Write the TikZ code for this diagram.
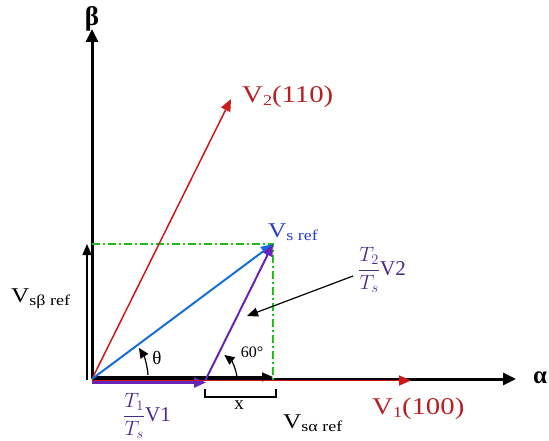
\documentclass[tikz,border=0pt]{standalone}
\usepackage{fontspec}
\setmainfont{Liberation Serif}
\newfontfamily\labfont[FakeStretch=1.2]{Liberation Serif}
\usetikzlibrary{arrows.meta}
\definecolor{vred}{RGB}{205,25,25}
\definecolor{lred}{RGB}{185,30,35}
\definecolor{vblue}{RGB}{20,110,220}
\definecolor{lblue}{RGB}{40,60,200}
\definecolor{vpurple}{RGB}{105,35,185}
\definecolor{lpurple}{RGB}{75,40,140}
\definecolor{vgreen}{RGB}{30,190,30}
\newcommand\lsub[1]{\raisebox{-3pt}{\fontsize{15}{15}\selectfont #1}}
\tikzset{
  axisline/.style={line width=3pt,-{Triangle[length=13pt,width=12pt]}},
  vec/.style={-{Triangle[length=12pt,width=10pt]}},
  comp/.style={line width=1.2pt,-{Triangle[length=11pt,width=9pt]}},
  anglearc/.style={line width=1.2pt,-{Triangle[length=10pt,width=9pt]}},
  guide/.style={vgreen,line width=1.6pt,dash pattern=on 8pt off 3pt on 2pt off 3pt},
  lab/.style={inner sep=0pt,font=\fontsize{21}{23}\selectfont},
  vlab/.style={inner sep=0pt,anchor=west,font=\labfont\fontsize{24}{26}\selectfont},
  slab/.style={inner sep=0pt,anchor=west,font=\labfont\fontsize{21}{23}\selectfont},
}
\begin{document}
\begin{tikzpicture}[x=1pt,y=-1pt]
\useasboundingbox (0,0) rectangle (549,441);
% coordinates
\coordinate (O) at (92,379);
\coordinate (Btip) at (92,29);
\coordinate (Atip) at (516,379);
\coordinate (Or) at (92,380.5);
\coordinate (V1) at (411,380.5);
\coordinate (Op) at (92,382.5);
\coordinate (P) at (206,382.5);
\coordinate (Pb) at (205,381);
\coordinate (V2) at (231,99);
\coordinate (Vs) at (273,244);
\coordinate (Gl) at (92,244);
\coordinate (Gb) at (273,380);
\coordinate (Bb) at (87,380);
\coordinate (Bt) at (87,244);
\coordinate (Aa) at (92,377);
\coordinate (At) at (273,377);
% axes
\draw[axisline] (O) -- (Btip);
\draw[axisline] (O) -- (Atip);
% guides
\draw[guide] (Gl) -- (Vs) -- (Gb);
% components
\draw[comp] (Bb) -- (Bt);
\draw[comp] (Aa) -- (At);
% vectors
\draw[vec,vred,line width=1.5pt] (O) -- (V2);
\draw[vec,vblue,line width=2pt] (O) -- (Vs);
\draw[vec,vpurple,line width=2.5pt] (Op) -- (P);
\draw[vec,vred,line width=1.6pt] (Or) -- (V1);
\draw[vec,vpurple,line width=2pt] (Pb) -- (Vs);
% angle arcs
\draw[anglearc] (148,375) arc[start angle=-4, end angle=-33, radius=57];
\draw[anglearc] (237,377) arc[start angle=-7, end angle=-53, radius=32.5];
% bracket
\draw[line width=1.2pt] (205,389) -- (205,397) -- (276,397) -- (276,389);
% labels
\node[lab,font=\fontsize{27}{27}\selectfont\bfseries] (beta) at (92,19) {β};
\node[lab,font=\fontsize{25}{25}\selectfont\bfseries] (alpha) at (540,378) {α};
\node[vlab,text=lred] (lV2) at (242,97) {V\lsub{2}(110)};
\node[vlab,text=lred] (lV1) at (372,409) {V\lsub{1}(100)};
\node[slab,text=lblue] (lVs) at (268,232) {V\lsub{s ref}};
\node[slab] (lVb) at (11,299) {V\lsub{sβ ref}};
\node[slab] (lVa) at (283,423) {V\lsub{sα ref}};
\node[lab,font=\fontsize{19}{19}\selectfont] (th) at (157,358) {θ};
\node[lab,font=\fontsize{16}{16}\selectfont] (sixty) at (252,352) {60°};
\node[lab,font=\fontsize{19}{19}\selectfont] (xl) at (239,405) {x};
\node[lab,text=lpurple] (t1) at (147,416) {$\displaystyle\frac{T_1}{T_s}$V1};
\node[lab,text=lpurple] (t2) at (382,270) {$\displaystyle\frac{T_2}{T_s}$V2};
\coordinate (ptr) at (247,316);
\draw[line width=1.2pt,-{Triangle[length=11pt,width=9pt]}] (t2.west) ++(-5,6) -- (ptr);
\end{tikzpicture}
\end{document}
